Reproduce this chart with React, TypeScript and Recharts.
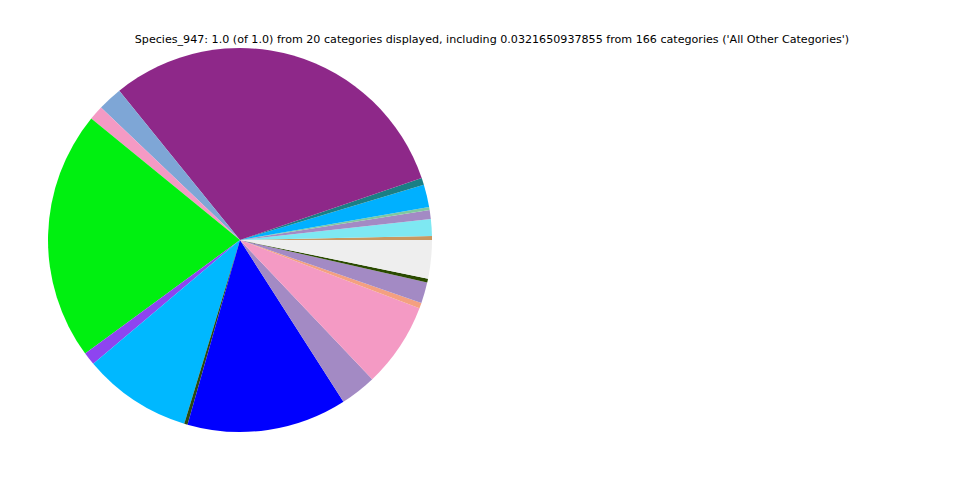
import React from "react";
import { PieChart, Pie, Cell } from "recharts";

const categories = [
  "Category 1", "Category 2", "Category 3", "Category 4", "Category 5",
  "Category 6", "Category 7", "Category 8", "Category 9", "Category 10",
  "Category 11", "Category 12", "Category 13", "Category 14", "Category 15",
  "Category 16", "Category 17", "Category 18", "Category 19", "All Other Categories",
];

const values = [
  0.0033, 0.0142, 0.0075, 0.0025, 0.0189,
  0.0058, 0.3053, 0.0206, 0.0122, 0.2092,
  0.0108, 0.0914, 0.0028, 0.1344, 0.0303,
  0.0711, 0.0047, 0.0175, 0.0033, 0.0322,
];

const colors = [
  "#c89860", "#7ee8f2", "#a38ac4", "#80c8a0", "#00b0ff",
  "#1a7f85", "#8e2889", "#7ea6d6", "#f49ac4", "#00f010",
  "#8e44f0", "#00b8ff", "#2a4a10", "#0000ff", "#a38ac4",
  "#f49ac4", "#f4a080", "#a38ac4", "#2a4a00", "#eeeeee",
];

const title =
  "Species_947: 1.0 (of 1.0) from 20 categories displayed, including 0.0321650937855 from 166 categories ('All Other Categories')";

const data = categories.map((name, i) => ({ name, value: values[i] }));

export default function App() {
  return (
    <div style={{ position: "absolute", left: 0, top: 0, width: 960, height: 480, background: "#fff" }}>
      <div
        style={{
          position: "absolute",
          left: 0,
          width: 984,
          top: 33,
          textAlign: "center",
          fontFamily: "DejaVu Sans",
          fontSize: 11.12,
          color: "#000",
          whiteSpace: "nowrap",
        }}
      >
        {title}
      </div>
      <PieChart width={960} height={480} margin={{ top: 0, right: 0, bottom: 0, left: 0 }}>
        <Pie
          data={data}
          dataKey="value"
          nameKey="name"
          cx={240}
          cy={240}
          outerRadius={192}
          startAngle={0}
          endAngle={360}
          stroke="none"
          isAnimationActive={false}
        >
          {data.map((d, i) => (
            <Cell key={d.name} fill={colors[i]} />
          ))}
        </Pie>
      </PieChart>
    </div>
  );
}
